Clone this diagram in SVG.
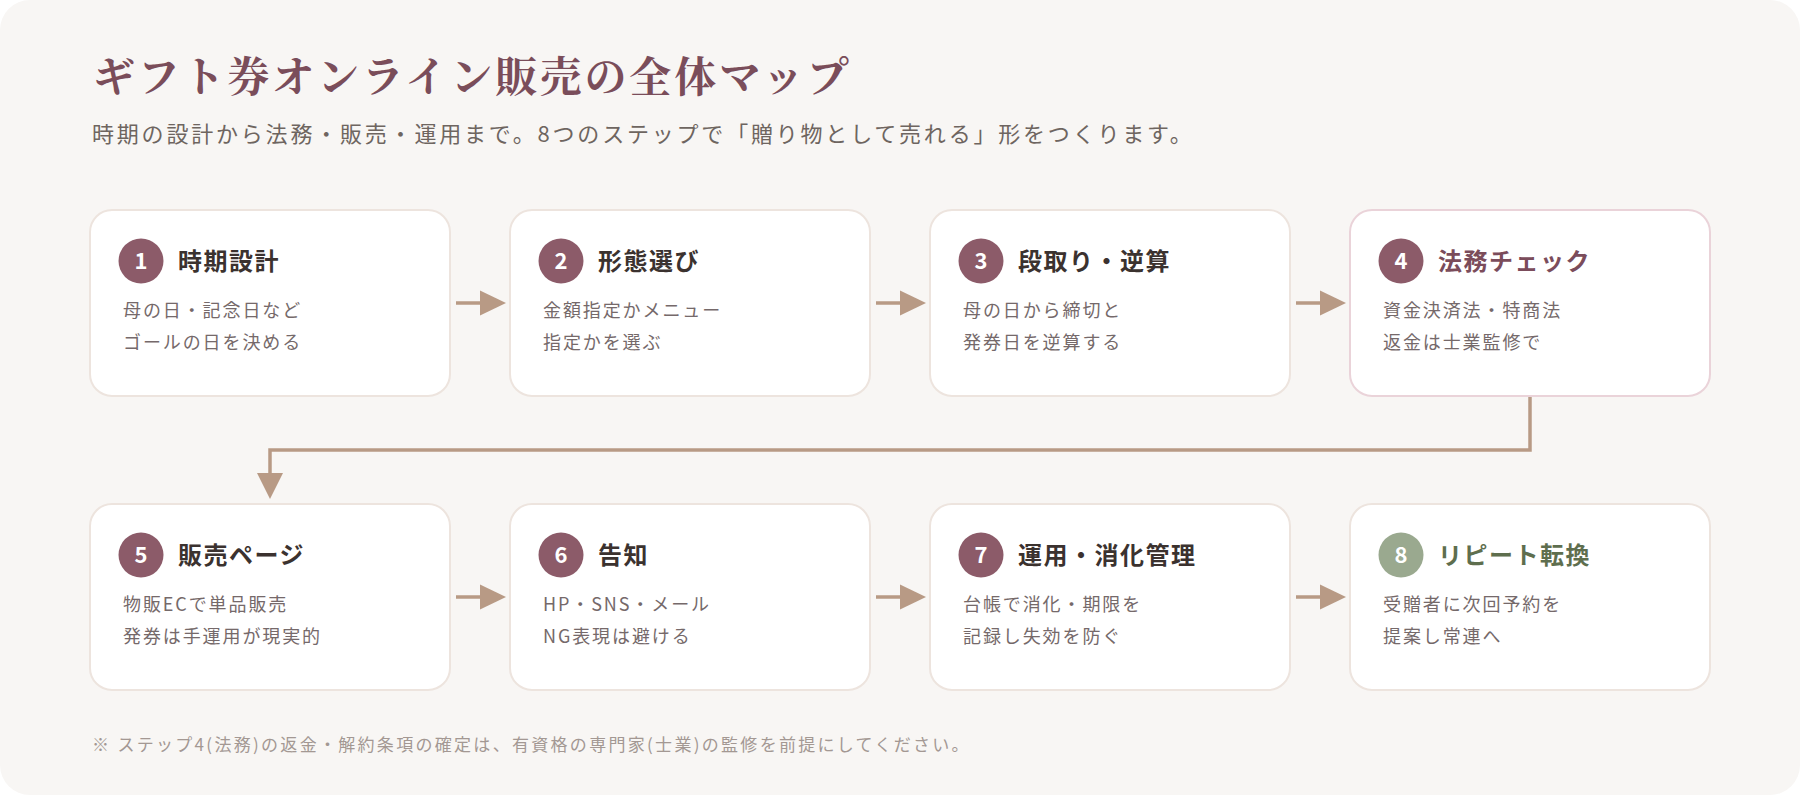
<svg xmlns="http://www.w3.org/2000/svg" width="1800" height="795" viewBox="0 0 1800 795">
<defs>
<style>
.bg{fill:#f8f6f4}
.card{fill:#ffffff;stroke:#ede4de;stroke-width:2}
.card.legal{stroke:#ead3d9}
.num{fill:#8c5b69}
.num.green{fill:#9aa98f}
.numt{font-family:"Noto Sans CJK JP","Noto Sans",sans-serif;font-size:22px;font-weight:600;fill:#ffffff;text-anchor:middle}
.ttl{font-family:"Noto Sans CJK JP",sans-serif;font-size:24px;font-weight:700;fill:#3b322f;letter-spacing:1.5px}
.ttl.legal{fill:#7b4c5b}
.ttl.green{fill:#5e6e4e}
.desc{font-family:"Noto Sans CJK JP",sans-serif;font-size:18px;fill:#75696a;letter-spacing:1.9px}
.head{font-family:"Noto Serif CJK JP","Noto Sans CJK JP",serif;font-size:42px;font-weight:700;fill:#7a4d5a;letter-spacing:2.8px}
.sub{font-family:"Noto Sans CJK JP",sans-serif;font-size:22px;fill:#6e6560;letter-spacing:2.8px}
.foot{font-family:"Noto Sans CJK JP",sans-serif;font-size:17px;fill:#a39893;letter-spacing:2.3px}
.conn{fill:none;stroke:#b89a85;stroke-width:3.5}
.head-arrow{fill:#b89a85}
</style>
</defs>
<rect x="0" y="0" width="1800" height="795" fill="#ffffff"/>
<rect class="bg" x="0" y="0" width="1800" height="795" rx="30"/>
<text class="head" x="93" y="92">ギフト券オンライン販売の全体マップ</text>
<text class="sub" x="92" y="142">時期の設計から法務・販売・運用まで。8つのステップで「贈り物として売れる」形をつくります。</text>

<g id="connectors">
<line class="conn" x1="456" y1="303" x2="484" y2="303"/>
<polygon class="head-arrow" points="480,290.5 506,303 480,315.5"/>
<line class="conn" x1="876" y1="303" x2="904" y2="303"/>
<polygon class="head-arrow" points="900,290.5 926,303 900,315.5"/>
<line class="conn" x1="1296" y1="303" x2="1324" y2="303"/>
<polygon class="head-arrow" points="1320,290.5 1346,303 1320,315.5"/>
<polyline class="conn" points="1530,396 1530,450 270,450 270,476"/>
<polygon class="head-arrow" points="257,473 283,473 270,499"/>
<line class="conn" x1="456" y1="597" x2="484" y2="597"/>
<polygon class="head-arrow" points="480,584.5 506,597 480,609.5"/>
<line class="conn" x1="876" y1="597" x2="904" y2="597"/>
<polygon class="head-arrow" points="900,584.5 926,597 900,609.5"/>
<line class="conn" x1="1296" y1="597" x2="1324" y2="597"/>
<polygon class="head-arrow" points="1320,584.5 1346,597 1320,609.5"/>
</g>

<g id="step1">
<rect class="card" x="90" y="210" width="360" height="186" rx="22"/>
<circle class="num" cx="141" cy="261" r="22.5"/>
<text class="numt" x="141" y="269">1</text>
<text class="ttl" x="178" y="270">時期設計</text>
<text class="desc" x="123" y="317">母の日・記念日など</text>
<text class="desc" x="123" y="349">ゴールの日を決める</text>
</g>
<g id="step2">
<rect class="card" x="510" y="210" width="360" height="186" rx="22"/>
<circle class="num" cx="561" cy="261" r="22.5"/>
<text class="numt" x="561" y="269">2</text>
<text class="ttl" x="598" y="270">形態選び</text>
<text class="desc" x="543" y="317">金額指定かメニュー</text>
<text class="desc" x="543" y="349">指定かを選ぶ</text>
</g>
<g id="step3">
<rect class="card" x="930" y="210" width="360" height="186" rx="22"/>
<circle class="num" cx="981" cy="261" r="22.5"/>
<text class="numt" x="981" y="269">3</text>
<text class="ttl" x="1018" y="270">段取り・逆算</text>
<text class="desc" x="963" y="317">母の日から締切と</text>
<text class="desc" x="963" y="349">発券日を逆算する</text>
</g>
<g id="step4">
<rect class="card legal" x="1350" y="210" width="360" height="186" rx="22"/>
<circle class="num" cx="1401" cy="261" r="22.5"/>
<text class="numt" x="1401" y="269">4</text>
<text class="ttl legal" x="1438" y="270">法務チェック</text>
<text class="desc" x="1383" y="317">資金決済法・特商法</text>
<text class="desc" x="1383" y="349">返金は士業監修で</text>
</g>
<g id="step5">
<rect class="card" x="90" y="504" width="360" height="186" rx="22"/>
<circle class="num" cx="141" cy="555" r="22.5"/>
<text class="numt" x="141" y="563">5</text>
<text class="ttl" x="178" y="564">販売ページ</text>
<text class="desc" x="123" y="611">物販ECで単品販売</text>
<text class="desc" x="123" y="643">発券は手運用が現実的</text>
</g>
<g id="step6">
<rect class="card" x="510" y="504" width="360" height="186" rx="22"/>
<circle class="num" cx="561" cy="555" r="22.5"/>
<text class="numt" x="561" y="563">6</text>
<text class="ttl" x="598" y="564">告知</text>
<text class="desc" x="543" y="611">HP・SNS・メール</text>
<text class="desc" x="543" y="643">NG表現は避ける</text>
</g>
<g id="step7">
<rect class="card" x="930" y="504" width="360" height="186" rx="22"/>
<circle class="num" cx="981" cy="555" r="22.5"/>
<text class="numt" x="981" y="563">7</text>
<text class="ttl" x="1018" y="564">運用・消化管理</text>
<text class="desc" x="963" y="611">台帳で消化・期限を</text>
<text class="desc" x="963" y="643">記録し失効を防ぐ</text>
</g>
<g id="step8">
<rect class="card" x="1350" y="504" width="360" height="186" rx="22"/>
<circle class="num green" cx="1401" cy="555" r="22.5"/>
<text class="numt" x="1401" y="563">8</text>
<text class="ttl green" x="1438" y="564">リピート転換</text>
<text class="desc" x="1383" y="611">受贈者に次回予約を</text>
<text class="desc" x="1383" y="643">提案し常連へ</text>
</g>

<text class="foot" x="92" y="751">※ ステップ4(法務)の返金・解約条項の確定は、有資格の専門家(士業)の監修を前提にしてください。</text>
</svg>
